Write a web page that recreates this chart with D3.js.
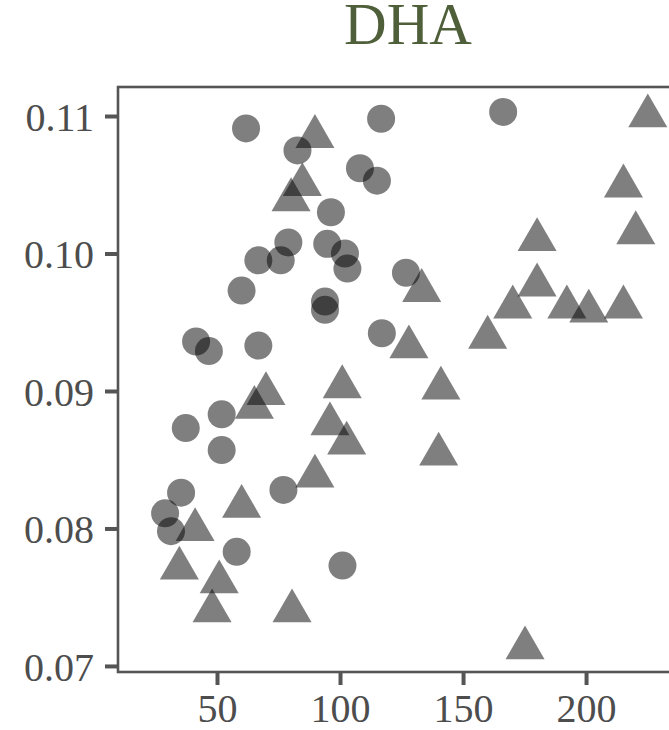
<!DOCTYPE html>
<html>
<head>
<meta charset="utf-8">
<script src="https://cdn.jsdelivr.net/npm/d3@7/dist/d3.min.js"></script>
<style>
  html, body { margin: 0; padding: 0; background: #fff; overflow: hidden; }
  .tick text { font-family: "Liberation Serif", "Times New Roman", serif; fill: #4d4d4d; }
</style>
</head>
<body>
<div id="chart"></div>
<script>
    // circles (first group)
    var circleX = [61.8, 82.7, 166.3, 116.7, 108.1, 115.0, 96.3, 79.0, 66.8, 75.9,
                   94.8, 102.0, 103.0, 60.0, 93.9, 93.9, 126.8, 117.0, 41.5, 46.7,
                   66.8, 37.3, 51.9, 51.9, 35.4, 28.9, 31.3, 58.0, 77.0, 101.0];
    var circleY = [0.1091, 0.1075, 0.1103, 0.1098, 0.1062, 0.1053, 0.1030, 0.1008, 0.0995, 0.0995,
                   0.1007, 0.1000, 0.0989, 0.0973, 0.0965, 0.0959, 0.0986, 0.0942, 0.0936, 0.0929,
                   0.0933, 0.0873, 0.0883, 0.0857, 0.0826, 0.0811, 0.0798, 0.0783, 0.0828, 0.0773];

    // triangles (second group)
    var triX = [89.8, 84.7, 80.1, 225.1, 215.2, 220.2, 180.1, 180.1, 170.2, 192.2,
                201.1, 215.2, 160.0, 133.2, 128.0, 141.0, 140.1, 175.2, 100.9, 95.9,
                102.7, 69.9, 65.2, 89.8, 60.0, 41.1, 34.7, 50.9, 48.0, 80.5];
    var triY = [0.1085, 0.1050, 0.1039, 0.1100, 0.1049, 0.1015, 0.1010, 0.0977, 0.0961, 0.0961,
                0.0958, 0.0961, 0.0939, 0.0973, 0.0932, 0.0902, 0.0854, 0.0713, 0.0903, 0.0876,
                0.0862, 0.0898, 0.0888, 0.0838, 0.0816, 0.0799, 0.0771, 0.0761, 0.0740, 0.0740];

    var xTicks = [50, 100, 150, 200];
    var yTicks = [0.07, 0.08, 0.09, 0.10, 0.11];
    var title = "DHA";

    var fullWidth = 669;
    var fullHeight = 730;

    var margin = {
      top: 87,
      left: 118,
      bottom: 58
    };

    var width = 580;   // panel runs past the right edge of the picture
    var height = fullHeight - margin.top - margin.bottom;

    var svg = d3.select('#chart').append("svg")
        .attr("width", fullWidth)
        .attr("height", fullHeight)
        .style("display", "block");

    svg.append("text")
        .attr("x", margin.left + width / 2)
        .attr("y", 44)
        .attr("text-anchor", "middle")
        .attr("font-family", "'Liberation Serif', 'Times New Roman', serif")
        .attr("font-size", 59)
        .attr("fill", "#4e5f3a")
        .text(title);

    var g = svg.append("g")
        .attr("transform", "translate(" + margin.left + "," + margin.top + ")");

    var x = d3.scaleLinear()
        .domain([9.76, 245.5])
        .range([0, width]);

    var y = d3.scaleLinear()
        .domain([0.06956, 0.11211])
        .range([height, 0]);

    var xAxis = d3.axisBottom(x)
        .tickValues(xTicks)
        .tickSize(13)
        .tickPadding(11)
        .tickFormat(d3.format("d"));

    var yAxis = d3.axisLeft(y)
        .tickValues(yTicks)
        .tickSize(13)
        .tickPadding(11)
        .tickFormat(d3.format(".2f"));

    var gx = g.append("g")
        .attr("class", "x axis")
        .attr("transform", "translate(0," + height + ")")
        .call(xAxis);

    var gy = g.append("g")
        .attr("class", "y axis")
        .call(yAxis);

    [gx, gy].forEach(function(a) {
      a.select(".domain").remove();
      a.selectAll(".tick line").attr("stroke", "#555").attr("stroke-width", 4);
      a.selectAll(".tick text").attr("font-size", 40).attr("fill", "#4d4d4d");
    });
    gx.selectAll(".tick text").attr("dy", "0.71em").attr("y", 22);
    gy.selectAll(".tick text").attr("dy", "0.36em");

    var circles = circleX.map(function(d, i) { return {x: d, y: circleY[i]}; });
    var triangles = triX.map(function(d, i) { return {x: d, y: triY[i]}; });

    var circleSym = d3.symbol().type(d3.symbolCircle).size(Math.PI * 14 * 14);
    var triSym = d3.symbol().type(d3.symbolTriangle).size(660);

    var clip = g.append("clipPath").attr("id", "panel")
      .append("rect").attr("width", width).attr("height", height);

    var pts = g.append("g").attr("clip-path", "url(#panel)");

    pts.selectAll("path.circ")
        .data(circles)
        .enter().append("path")
          .attr("class", "circ")
          .attr("d", circleSym)
          .attr("transform", function(d) { return "translate(" + x(d.x) + "," + y(d.y) + ")"; })
          .attr("fill", "#000")
          .attr("fill-opacity", 0.5);

    pts.selectAll("path.tri")
        .data(triangles)
        .enter().append("path")
          .attr("class", "tri")
          .attr("d", triSym)
          .attr("transform", function(d) { return "translate(" + x(d.x) + "," + y(d.y) + ")"; })
          .attr("fill", "#000")
          .attr("fill-opacity", 0.5);

    // panel border
    g.append("rect")
        .attr("x", 0)
        .attr("y", 0)
        .attr("width", width)
        .attr("height", height)
        .attr("fill", "none")
        .attr("stroke", "#555")
        .attr("stroke-width", 2.6);
</script>
</body>
</html>
